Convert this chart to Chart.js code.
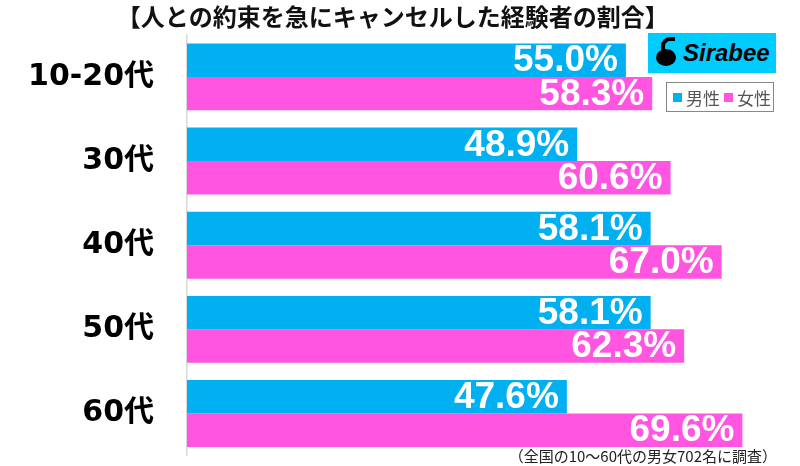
<!DOCTYPE html>
<html>
<head>
<meta charset="utf-8">
<script src="https://cdn.jsdelivr.net/npm/chart.js@4"></script>
<style>
  html, body { margin: 0; padding: 0; background: #fff; }
  #wrap { position: relative; width: 800px; height: 466px; }
  #logo {
    position: absolute; left: 648px; top: 33px; width: 128px; height: 40px;
    background: #00ccff; box-sizing: border-box;
    font: italic bold 24px "Liberation Sans", sans-serif; color: #000;
    display: flex; align-items: center; padding-left: 8px;
  }
  #logo .mark {
    width: 20px; height: 17px; border-radius: 50%; background: #000;
    margin-right: 7px; margin-top: 8px; position: relative;
  }
  #logo .mark::before {
    content: ""; position: absolute; left: 5px; top: -12px; width: 10px; height: 13px;
    border: 4px solid #000; border-right: none; border-bottom: none;
    border-radius: 9px 0 0 0;
  }
  #legend {
    position: absolute; left: 666px; top: 82px; width: 108px; height: 30px;
    border: 1.5px solid #888; box-sizing: border-box;
    display: flex; align-items: center; justify-content: center;
    font: 17px "Noto Sans CJK JP", sans-serif; color: #555;
  }
  #legend span.sw { display: inline-block; width: 9px; height: 9px; margin: 0 4px 0 4px; }
  #note {
    position: absolute; right: 23px; top: 448px;
    font: 15px/1 "Noto Sans CJK JP", sans-serif; color: #222;
  }
</style>
</head>
<body>
<div id="wrap">
  <canvas id="chart" width="800" height="466"></canvas>
  <div id="logo"><div class="mark"></div>Sirabee</div>
  <div id="legend"></div>
  <div id="note">（全国の10～60代の男女702名に調査）</div>
</div>
<script>
// data
const categories = ['10-20代', '30代', '40代', '50代', '60代'];
const maleValues = [55.0, 48.9, 58.1, 58.1, 47.6];
const femaleValues = [58.3, 60.6, 67.0, 62.3, 69.6];
const seriesNames = ['男性', '女性'];
const titleText = '【人との約束を急にキャンセルした経験者の割合】';

const BLUE = '#00b0f0';
const PINK = '#ff55e1';

// white value labels drawn inside the end of each bar
const barLabels = {
  id: 'barLabels',
  afterDatasetsDraw(chart) {
    const ctx = chart.ctx;
    ctx.save();
    ctx.font = 'bold 37px "Liberation Sans", Arial, sans-serif';
    ctx.fillStyle = '#fff';
    ctx.textAlign = 'right';
    ctx.textBaseline = 'middle';
    chart.data.datasets.forEach((ds, i) => {
      chart.getDatasetMeta(i).data.forEach((bar, j) => {
        ctx.fillText(ds.data[j].toFixed(1) + '%', bar.x - 8, bar.y + 1);
      });
    });
    ctx.restore();
  }
};

const ctx = document.getElementById('chart').getContext('2d');
const chart = new Chart(ctx, {
  type: 'bar',
  data: {
    labels: categories,
    datasets: [
      { label: seriesNames[0], data: maleValues, backgroundColor: BLUE },
      { label: seriesNames[1], data: femaleValues, backgroundColor: PINK }
    ]
  },
  options: {
    indexAxis: 'y',
    responsive: false,
    animation: false,
    layout: { padding: { left: 0, right: 14.5, top: 0, bottom: 10.4 } },
    datasets: { bar: { categoryPercentage: 0.795, barPercentage: 1.0 } },
    plugins: {
      legend: { display: false },
      tooltip: { enabled: false },
      title: {
        display: true,
        text: titleText,
        color: '#111',
        font: { family: '"Noto Sans CJK JP", sans-serif', size: 24, weight: 'bold' },
        padding: { top: 2, bottom: 4 }
      }
    },
    scales: {
      x: { display: false, min: 0, max: 75 },
      y: {
        grid: { display: false },
        border: { display: true, color: '#d8d8d8', width: 1.5 },
        ticks: {
          color: '#000',
          padding: 25,
          font: { family: '"DejaVu Sans", "Noto Sans CJK JP", sans-serif', size: 30, weight: 'bold' }
        },
        afterFit(scale) {
          scale.width = 187;
          scale.paddingTop = 0;
          scale.paddingBottom = 0;
        }
      }
    }
  },
  plugins: [barLabels]
});

// legend box built from the dataset names and colours
const legendEl = document.getElementById('legend');
chart.data.datasets.forEach(ds => {
  const sw = document.createElement('span');
  sw.className = 'sw';
  sw.style.background = ds.backgroundColor;
  legendEl.appendChild(sw);
  legendEl.appendChild(document.createTextNode(ds.label));
});
</script>
</body>
</html>
